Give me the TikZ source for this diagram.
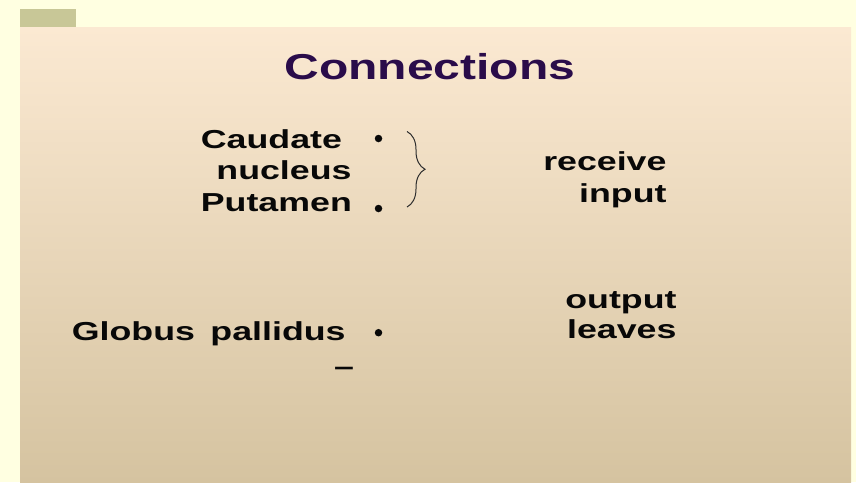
\documentclass[tikz,border=0pt]{standalone}
\usepackage{fontspec}
\setmainfont{Liberation Sans}
\usepackage{xcolor}
\usetikzlibrary{decorations.pathreplacing}
\definecolor{slideyellow}{RGB}{255,255,225}
\definecolor{tabgreen}{RGB}{200,199,151}
\definecolor{paneltop}{RGB}{251,233,210}
\definecolor{panelbottom}{RGB}{213,195,160}
\definecolor{titlepurple}{RGB}{42,12,74}
\definecolor{textblack}{RGB}{8,8,8}
\newcommand{\widetext}[1]{\scalebox{1.333}[1]{#1}}
\newcommand{\widerbody}[1]{\scalebox{1.375}[1]{#1}}

\begin{document}
\begin{tikzpicture}[x=1pt,y=-1pt,
  bodytext/.style={inner sep=0pt,font=\fontsize{26}{31}\selectfont\bfseries,text=textblack},
  titletext/.style={inner sep=0pt,font=\fontsize{36}{43}\selectfont\bfseries,text=titlepurple},
  dot/.style={circle,fill=textblack,inner sep=0pt,minimum size=7.5pt}]
  \useasboundingbox (0,0) rectangle (856,482);
  \fill[slideyellow] (0,0) rectangle (856,482);
  \fill[tabgreen] (20,9) rectangle (75.5,27.5);
  \shade[top color=paneltop,bottom color=panelbottom] (20,27.5) rectangle (851,482);

  \node[titletext,anchor=base] (title) at (430,79.5) {\widetext{Connections}};

  \node[bodytext,anchor=base west] (caudate) at (200.7,148.5) {\widerbody{Caudate}};
  \node[bodytext,anchor=base east] (nucleus) at (351.7,179.5) {\widerbody{nucleus}};
  \node[bodytext,anchor=base west] (putamen) at (200.7,211) {\widerbody{Putamen}};
  \node[dot] (caudatedot) at (378.5,138.5) {};
  \node[dot] (putamendot) at (378.5,208.5) {};
  \coordinate (bracetop) at (407,131.5);
  \coordinate (bracebottom) at (407,207);
  \draw[textblack!85,line width=1pt,decorate,decoration={brace,amplitude=18pt}] (bracetop) -- (bracebottom);

  \node[bodytext,anchor=base east] (receive) at (666.7,170) {\widerbody{receive}};
  \node[bodytext,anchor=base east] (input) at (666.7,202) {\widerbody{input}};

  \node[bodytext,anchor=base west] (globus) at (71.7,340.5) {\widerbody{Globus\hspace{4pt} pallidus}};
  \node[dot] (globusdot) at (378.5,332.7) {};
  \node[bodytext,anchor=base] (dash) at (344,375) {\widerbody{\textendash}};

  \node[bodytext,anchor=base east] (output) at (676.7,308.3) {\widerbody{output}};
  \node[bodytext,anchor=base east] (leaves) at (676.7,338.3) {\widerbody{leaves}};
\end{tikzpicture}
\end{document}
